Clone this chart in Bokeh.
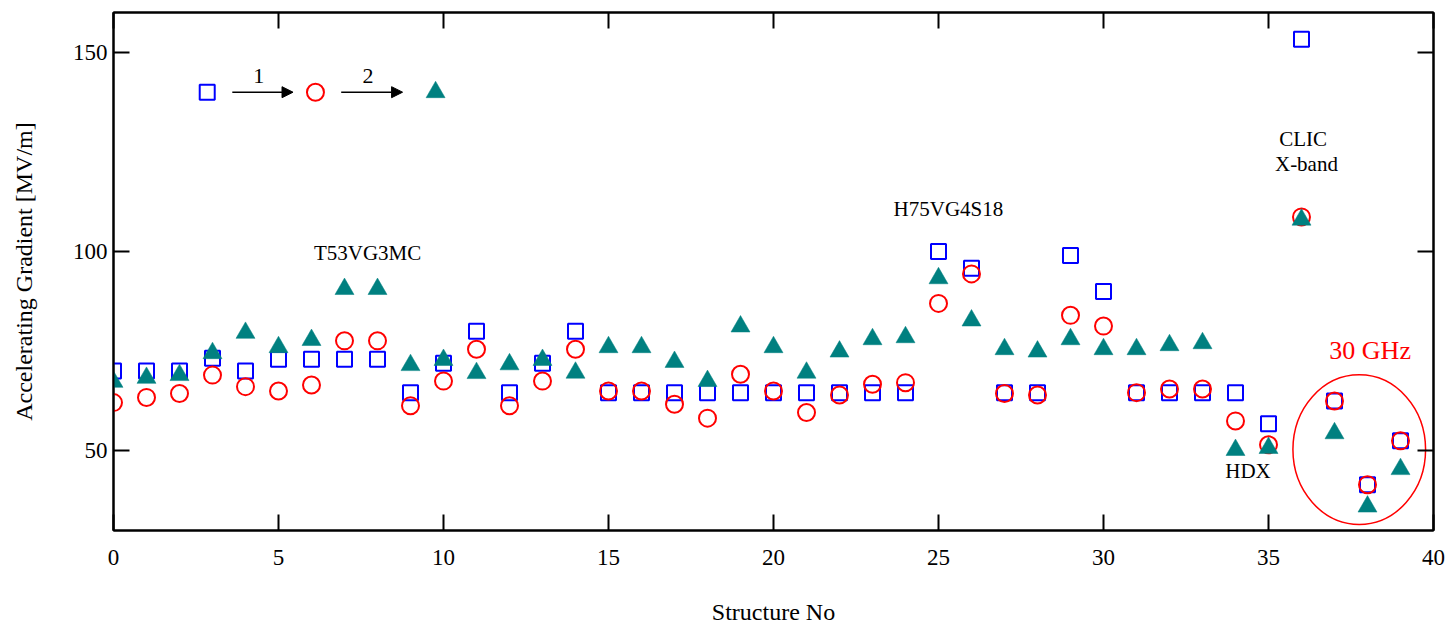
from bokeh.plotting import figure
from bokeh.models import (Range1d, LinearAxis, FixedTicker, Label, Arrow, NormalHead,
                          ColumnDataSource)
from bokeh.embed import file_html
from bokeh.resources import INLINE

# ---------------- data ----------------
structure_no = list(range(40))
grad_initial = [70, 70, 70, 73.2, 70, 73, 73, 73, 73, 64.6,
                72, 80, 64.6, 72, 80, 64.6, 64.6, 64.6, 64.6, 64.6,
                64.6, 64.6, 64.6, 64.6, 64.6, 100, 95.8, 64.6, 64.6, 99,
                90, 64.6, 64.6, 64.6, 64.6, 56.8, 153.3, 62.5, 41.5, 52.5]
grad_step1 = [62.1, 63.4, 64.4, 69, 66.1, 65, 66.5, 77.6, 77.6, 61.3,
              67.5, 75.5, 61.3, 67.5, 75.5, 65, 65, 61.7, 58.2, 69.2,
              65, 59.6, 64, 66.7, 67.1, 87, 94.4, 64.4, 64, 84,
              81.3, 64.6, 65.5, 65.5, 57.5, 51.5, 108.7, 62.5, 41.5, 52.5]
grad_step2 = [67.3, 68.3, 69, 74.5, 79.6, 76, 77.8, 90.6, 90.6, 71.5,
              72.8, 69.5, 71.7, 72.8, 69.6, 76, 76, 72.3, 67.5, 81.2,
              76, 69.6, 74.9, 78, 78.5, 93.3, 82.7, 75.5, 74.9, 78,
              75.5, 75.5, 76.5, 77, 50.2, 50.7, 108, 54.4, 36, 45.4]

x_ticks = [0, 5, 10, 15, 20, 25, 30, 35, 40]
y_ticks = [50, 100, 150]

# legend key (square -1-> circle -2-> triangle)
key_x = [2.84, 6.12, 9.76]
key_y = [140, 140, 140]
arrow_x0 = [3.6, 6.9]
arrow_x1 = [5.44, 8.76]
arrow_y = [140, 140]
arrow_labels = ["1", "2"]
arrow_label_x = [4.4, 7.71]
arrow_label_y = [144.1, 144.1]

# annotations
note_text = ["T53VG3MC", "H75VG4S18", "CLIC", "X-band", "HDX"]
note_x = [7.7, 25.3, 36.05, 36.15, 34.38]
note_y = [99.6, 110.8, 128.3, 122.1, 44.9]
ghz_text = "30 GHz"
ghz_x, ghz_y = 38.08, 75.2
ellipse_x, ellipse_y, ellipse_w, ellipse_h = 37.75, 50.3, 4.02, 37.6

BLUE = "#0000ff"
RED = "#ff0000"
TEAL = "#008080"
SERIF = "Liberation Serif"

p = figure(width=1451, height=627, output_backend="svg", toolbar_location=None,
           x_range=Range1d(0, 40), y_range=Range1d(30, 160),
           min_border_left=113, min_border_right=18, min_border_top=12,
           min_border_bottom=96, x_axis_location=None, y_axis_location=None)
p.grid.visible = False
p.outline_line_color = "black"
p.outline_line_width = 2
p.background_fill_color = "white"
p.border_fill_color = "white"


def style_axis(ax, ticks, labels=True):
    ax.ticker = FixedTicker(ticks=ticks)
    ax.axis_line_width = 2
    ax.axis_line_color = "black"
    ax.major_tick_in = 16
    ax.major_tick_out = 0
    ax.major_tick_line_width = 2
    ax.major_tick_line_color = "black"
    ax.minor_tick_line_color = None
    ax.major_label_text_font = SERIF
    ax.major_label_text_color = "black"
    if labels:
        ax.major_label_text_font_size = "23px"
    else:
        ax.major_label_text_font_size = "0px"
        ax.major_label_standoff = 0
        ax.major_label_overrides = {t: "" for t in ticks}


xb = LinearAxis(axis_label="Structure No")
style_axis(xb, x_ticks)
xb.major_label_standoff = 19
xb.axis_label_standoff = 31
xb.axis_label_text_font = SERIF
xb.axis_label_text_font_size = "24px"
xb.axis_label_text_font_style = "normal"
xb.axis_label_text_color = "black"
p.add_layout(xb, "below")

yl = LinearAxis(axis_label="Accelerating Gradient [MV/m]")
style_axis(yl, y_ticks)
yl.major_label_standoff = 6
yl.axis_label_standoff = 33
yl.axis_label_text_font = SERIF
yl.axis_label_text_font_size = "24px"
yl.axis_label_text_font_style = "normal"
yl.axis_label_text_color = "black"
p.add_layout(yl, "left")

xt = LinearAxis()
style_axis(xt, x_ticks, labels=False)
p.add_layout(xt, "above")
yr = LinearAxis()
style_axis(yr, y_ticks, labels=False)
p.add_layout(yr, "right")

src = ColumnDataSource(dict(x=structure_no, a=grad_initial, b=grad_step1, c=grad_step2))

p.scatter("x", "a", source=src, marker="square", size=15, fill_color=None,
          line_color=BLUE, line_width=2)
p.scatter("x", "b", source=src, marker="circle", size=17, fill_color=None,
          line_color=RED, line_width=2)
p.scatter("x", "c", source=src, marker="triangle", size=19, fill_color=TEAL,
          line_color=TEAL, line_width=0.5)

# key
p.scatter([key_x[0]], [key_y[0]], marker="square", size=15, fill_color=None,
          line_color=BLUE, line_width=2)
p.scatter([key_x[1]], [key_y[1]], marker="circle", size=17, fill_color=None,
          line_color=RED, line_width=2)
p.scatter([key_x[2]], [key_y[2]], marker="triangle", size=19, fill_color=TEAL,
          line_color=TEAL, line_width=0.5)
for i in range(2):
    p.add_layout(Arrow(end=NormalHead(size=11, fill_color="black", line_color="black"),
                       x_start=arrow_x0[i], y_start=arrow_y[i],
                       x_end=arrow_x1[i], y_end=arrow_y[i],
                       line_width=1.5, line_color="black"))
    p.add_layout(Label(x=arrow_label_x[i], y=arrow_label_y[i], text=arrow_labels[i],
                       text_font=SERIF, text_font_size="22px", text_align="center",
                       text_baseline="middle", text_color="black"))

for t, x, y in zip(note_text, note_x, note_y):
    p.add_layout(Label(x=x, y=y, text=t, text_font=SERIF, text_font_size="21px",
                       text_align="center", text_baseline="middle",
                       text_color="black"))

p.add_layout(Label(x=ghz_x, y=ghz_y, text=ghz_text, text_font=SERIF,
                   text_font_size="26px", text_align="center",
                   text_baseline="middle", text_color=RED))
p.ellipse(x=[ellipse_x], y=[ellipse_y], width=[ellipse_w], height=[ellipse_h],
          fill_color=None, line_color=RED, line_width=1.5)

open("out.html", "w").write(file_html(p, INLINE))
